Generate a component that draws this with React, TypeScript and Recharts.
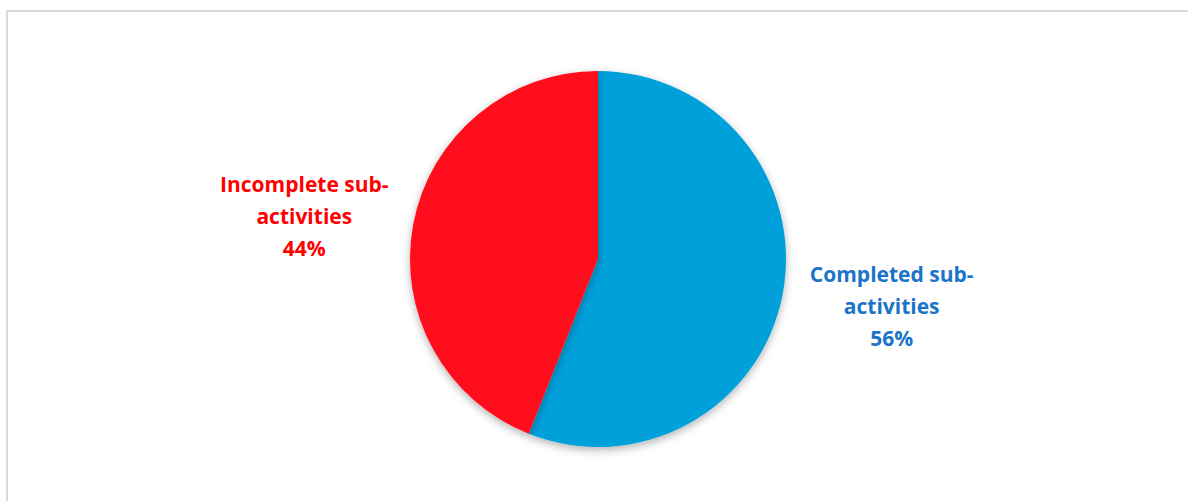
import React from "react";
import { PieChart, Pie, Cell } from "recharts";

const categories = ["Completed sub-activities", "Incomplete sub-activities"];
const values = [56, 44];
const labelLines = [
  ["Completed sub-", "activities"],
  ["Incomplete sub-", "activities"],
];
const sliceColors = ["#02A0DA", "#FF111A"];
const textColors = ["#1A74C8", "#FF0000"];

const data = categories.map((name, i) => ({ name, value: values[i] }));

const RAD = Math.PI / 180;

function renderLabel(props: any) {
  const { cx, cy, midAngle, outerRadius, index, percent } = props;
  const r = outerRadius + 111;
  const x = cx + r * Math.cos(-midAngle * RAD);
  const y = cy + r * Math.sin(-midAngle * RAD) * 0.8 + 2;
  const lines = [...labelLines[index], `${Math.round(percent * 100)}%`];
  const lh = 32;
  return (
    <text
      x={x}
      y={y - lh}
      textAnchor="middle"
      dominantBaseline="central"
      fill={textColors[index]}
      fontFamily="'Open Sans', Lato, sans-serif"
      fontWeight={700}
      fontSize={21}
    >
      {lines.map((t, i) => (
        <tspan key={i} x={x} dy={i === 0 ? 0 : lh}>
          {t}
        </tspan>
      ))}
    </text>
  );
}

export default function App() {
  return (
    <div style={{ position: "absolute", left: 0, top: 0, width: 1188, height: 501, background: "#fff", overflow: "hidden" }}>
      <div
        style={{
          position: "absolute",
          left: 6,
          top: 10,
          width: 1200,
          height: 520,
          borderTop: "2px solid #d9d9d9",
          borderLeft: "2px solid #d9d9d9",
        }}
      />
      <div style={{ position: "absolute", left: 0, top: 0 }}>
        <PieChart width={1188} height={501} margin={{ top: 0, right: 0, bottom: 0, left: 0 }}>
          <defs>
            <filter id="pieShadow" x="-20%" y="-20%" width="140%" height="140%">
              <feDropShadow dx="0" dy="3" stdDeviation="4" floodColor="#000" floodOpacity="0.3" />
            </filter>
          </defs>
          <Pie
            data={data}
            dataKey="value"
            nameKey="name"
            cx={598}
            cy={259}
            outerRadius={188}
            startAngle={90}
            endAngle={-270}
            stroke="none"
            label={renderLabel}
            labelLine={false}
            isAnimationActive={false}
            style={{ filter: "url(#pieShadow)" }}
          >
            {data.map((d, i) => (
              <Cell key={d.name} fill={sliceColors[i]} />
            ))}
          </Pie>
        </PieChart>
      </div>
    </div>
  );
}
